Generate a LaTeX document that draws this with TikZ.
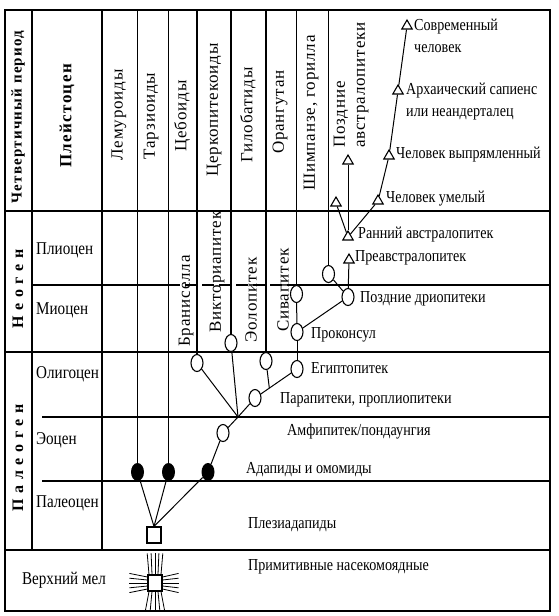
\documentclass[tikz,border=0pt]{standalone}
\usepackage{fontspec}
\setmainfont{Liberation Serif}[FakeStretch=0.84]
\newfontfamily\rotfont{Liberation Serif}[LetterSpace=5]
\newfontfamily\perfont{Liberation Serif}[LetterSpace=8]
\newfontfamily\widefont{Liberation Serif}[LetterSpace=35]
\usetikzlibrary{shapes.geometric}
\begin{document}
\begin{tikzpicture}[x=1pt,y=-1pt,
  tbl/.style={line width=1.25pt},
  frm/.style={line width=1.7pt},
  lin/.style={line width=1pt},
  oval/.style={ellipse,draw,line width=1.1pt,minimum width=12pt,minimum height=17pt,inner sep=0pt,fill=white},
  blk/.style={ellipse,fill=black,minimum width=13pt,minimum height=18pt,inner sep=0pt},
  tri/.style={regular polygon,regular polygon sides=3,draw,line width=1.1pt,minimum size=12pt,inner sep=0pt,fill=white},
  sq/.style={rectangle,draw,line width=1.1pt,minimum width=14pt,minimum height=16pt,inner sep=0pt,fill=white},
  lab/.style={font=\fontsize{16.8}{22}\selectfont,inner sep=0pt,anchor=west,align=left},
  elab/.style={font=\fontsize{18}{22}\selectfont,inner sep=0pt,anchor=west},
  rlab/.style={font=\rotfont\fontsize{17}{20}\selectfont,rotate=90,inner sep=0pt},
  plab/.style={font=\perfont\bfseries\fontsize{15}{18}\selectfont,rotate=90,inner sep=0pt},
  wlab/.style={font=\widefont\bfseries\fontsize{16}{18}\selectfont,rotate=90,inner sep=0pt}
]
\useasboundingbox (0,0) rectangle (558,616);
\fill[white] (0,0) rectangle (558,616);

% ---------- table ----------
\draw[frm] (5,10) rectangle (550,611);
\draw[tbl] (32,10) -- (32,550);
\draw[tbl] (102,10) -- (102,550);
\draw[tbl] (5,211) -- (550,211);
\draw[tbl] (32,285) -- (168,285);
\draw[tbl,dash pattern=on 12pt off 5pt] (168,285) -- (296,285);
\draw[tbl] (296,285) -- (550,285);
\draw[tbl] (5,352) -- (550,352);
\draw[tbl] (42,417) -- (550,417);
\draw[tbl] (42,481) -- (550,481);
\draw[tbl] (5,550) -- (550,550);

% column top coordinates
\coordinate (c1) at (137.5,10);
\coordinate (c2) at (168.5,10);
\coordinate (c3) at (197,10);
\coordinate (c4) at (231,10);
\coordinate (c5) at (266,10);
\coordinate (c6) at (296.5,10);
\coordinate (c7) at (328.5,10);

% ---------- nodes ----------
\node[blk] (lem) at (137.5,472) {};
\node[blk] (tar) at (168.5,472) {};
\node[blk] (ada) at (208,472) {};
\node[sq] (ple) at (154,535) {};
\node[sq] (ins) at (155,583) {};
\node[oval] (amf) at (223,433) {};
\coordinate (J) at (238,417);
\node[oval] (bra) at (197,363) {};
\node[oval] (vic) at (231,343) {};
\node[oval] (par) at (255,398) {};
\node[oval] (eol) at (266,361) {};
\node[oval] (egi) at (297,369) {};
\node[oval] (pro) at (297,332) {};
\node[oval] (siv) at (296.5,294) {};
\node[oval] (dri) at (348,297) {};
\node[oval] (chi) at (328.5,274) {};
\node[tri] (tpre) at (349,260) {};
\node[tri] (tear) at (348,237) {};
\node[tri] (tlft) at (336,203) {};
\node[tri] (tlat) at (348,161) {};
\node[tri] (thab) at (378,201) {};
\node[tri] (tere) at (389,156) {};
\node[tri] (tarc) at (398,91) {};
\node[tri] (tmod) at (407,26) {};

% ---------- connectors ----------
\draw[tbl] (c1) -- (lem.north);
\draw[tbl] (c2) -- (tar.north);
\draw[tbl] (c3) -- (bra.north);
\draw[tbl] (c4) -- (vic.north);
\draw[tbl] (c5) -- (eol.north);
\draw[tbl] (c6) -- (siv.north);
\draw[tbl] (c7) -- (chi.north);

\draw[lin] (ple.north) -- (lem);
\draw[lin] (ple.north) -- (tar);
\draw[lin] (ple.north) -- (ada);
\draw[lin] (ada) -- (amf);
\draw[lin] (amf) -- (J);
\draw[lin] (J) -- (bra);
\draw[lin] (J) -- (vic);
\draw[lin] (J) -- (par);
\draw[lin] (par) -- (egi);
\path (par) -- (egi) coordinate[pos=0.28] (k);
\draw[lin] (eol) -- (k);
\draw[lin] (egi) -- (pro);
\draw[lin] (pro) -- (siv);
\draw[lin] (pro) -- (dri);
\draw[lin] (dri) -- (chi);
\draw[lin] (dri) -- (tpre);
\draw[lin] (tear) -- (tlft);
\draw[lin] (tear) -- (tlat);
\draw[lin] (tear) -- (thab);
\draw[lin] (thab) -- (tere);
\draw[lin] (tere) -- (tarc);
\draw[lin] (tarc) -- (tmod);

% rays of the primitive insectivore square
\foreach \d in {-6,-3,0,3,6} {
  \draw[line width=0.8pt] ([xshift=\d pt]ins.north) -- ++(0.3*\d,-21);
  \draw[line width=0.8pt] ([xshift=\d pt]ins.south) -- ++(0.6*\d,19);
  \draw[line width=0.8pt] ([yshift=-\d pt]ins.west) -- ++(-18,0.6*\d);
  \draw[line width=0.8pt] ([yshift=-\d pt]ins.east) -- ++(16,0.6*\d);
}

% ---------- rotated labels ----------
\node[plab] (qper) at (18,117) {Четвертичный период};
\node[wlab] (neo) at (18,289) {Неоген};
\node[wlab] (pal) at (18,458) {Палеоген};
\node[plab,font=\perfont\bfseries\fontsize{17}{20}\selectfont] (ple2) at (67,116) {Плейстоцен};
\node[rlab] (l1) at (119,115) {Лемуроиды};
\node[rlab] (l2) at (151,116) {Тарзиоиды};
\node[rlab] (l3) at (182,116) {Цебоиды};
\node[rlab] (l4) at (214,110) {Церкопитекоиды};
\node[rlab] (l5) at (248,115) {Гилобатиды};
\node[rlab] (l6) at (280,112) {Орангутан};
\node[rlab] (l7) at (311,113) {Шимпанзе, горилла};
\node[rlab,anchor=west,align=left] (l8) at (351,148) {Поздние\\австралопитеки};
\node[rlab] (b1) at (186,301) {Браниселла};
\node[rlab] (b2) at (217,272) {Викториапитек};
\node[rlab] (b3) at (251,300) {Эолопитек};
\node[rlab] (b4) at (283,290) {Сивапитек};

% ---------- epoch labels ----------
\node[elab] (e1) at (36,250) {Плиоцен};
\node[elab] (e2) at (36,310) {Миоцен};
\node[elab] (e3) at (36,374) {Олигоцен};
\node[elab] (e4) at (36,440) {Эоцен};
\node[elab] (e5) at (36,503) {Палеоцен};
\node[elab,anchor=center] (e6) at (64,580) {Верхний мел};

% ---------- taxon labels ----------
\node[lab] at (414,36) {Современный\\человек};
\node[lab] at (406,101.5) {Архаический сапиенс\\или неандерталец};
\node[lab] at (396,155) {Человек выпрямленный};
\node[lab] at (386,199) {Человек умелый};
\node[lab] at (358,235) {Ранний австралопитек};
\node[lab] at (355,258) {Преавстралопитек};
\node[lab] at (360,299) {Поздние дриопитеки};
\node[lab] at (311,335) {Проконсул};
\node[lab] at (311,368) {Египтопитек};
\node[lab] at (280,400) {Парапитеки, проплиопитеки};
\node[lab] at (287,431) {Амфипитек/пондаунгия};
\node[lab] at (246,470) {Адапиды и омомиды};
\node[lab] at (248,525) {Плезиадапиды};
\node[lab] at (248,567) {Примитивные насекомоядные};
\end{tikzpicture}
\end{document}
